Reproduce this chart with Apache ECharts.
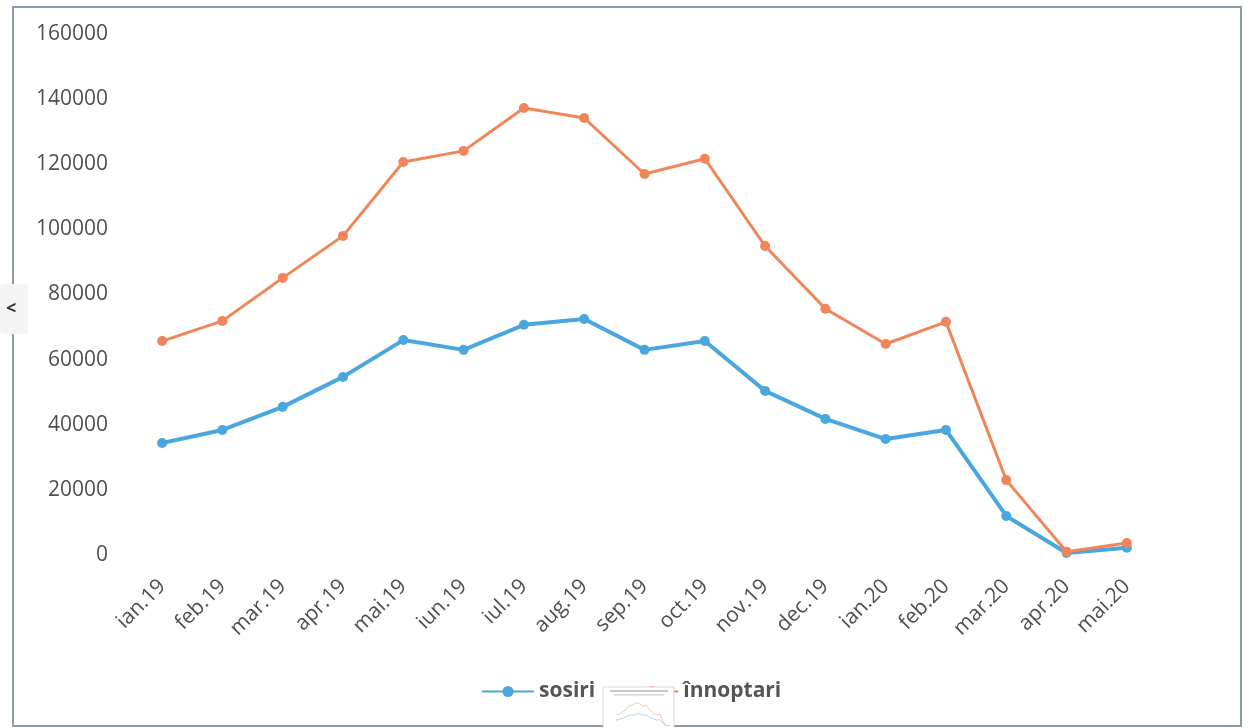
<!DOCTYPE html>
<html>
<head>
<meta charset="utf-8">
<script src="https://cdn.jsdelivr.net/npm/echarts@6/dist/echarts.min.js"></script>
<style>html,body{margin:0;padding:0;background:#fff;}#c{width:1250px;height:728px;}</style>
</head>
<body>
<div id="c"></div>
<script>
const categories = ['ian.19','feb.19','mar.19','apr.19','mai.19','iun.19','iul.19','aug.19','sep.19','oct.19','nov.19','dec.19','ian.20','feb.20','mar.20','apr.20','mai.20'];
const sosiri = [34400, 38400, 45500, 54700, 66000, 63000, 70700, 72500, 63000, 65700, 50400, 41800, 35600, 38400, 12000, 600, 2200];
const innoptari = [65700, 71900, 85100, 98000, 120700, 124100, 137300, 134200, 117000, 121700, 94900, 75600, 64800, 71600, 23000, 1000, 3700];
const yTicks = { min: 0, max: 160000, interval: 20000 };
const seriesNames = ['sosiri', 'înnoptari'];

const BLUE = '#4aa6de';
const ORANGE = '#f0855a';
const FONT = '"Open Sans", "Liberation Sans", sans-serif';

const chart = echarts.init(document.getElementById('c'));
chart.setOption({
  animation: false,
  backgroundColor: '#ffffff',
  grid: [
    { left: 132, right: 93, top: 34, bottom: 173 },
    { left: 616, top: 699, width: 54, height: 27 }
  ],
  legend: {
    data: seriesNames,
    left: 476,
    top: 676,
    itemWidth: 52,
    itemHeight: 14,
    itemGap: 30,
    textStyle: { fontFamily: FONT, fontSize: 21, fontWeight: 'bold', color: '#555555' }
  },
  xAxis: [
    {
      type: 'category', gridIndex: 0, data: categories, boundaryGap: true,
      axisLine: { show: false }, axisTick: { show: false },
      axisLabel: { rotate: 45, margin: 28, fontFamily: FONT, fontSize: 21, color: '#4f4f4f' }
    },
    { type: 'category', gridIndex: 1, data: categories, show: false, boundaryGap: false }
  ],
  yAxis: [
    {
      type: 'value', gridIndex: 0, min: yTicks.min, max: yTicks.max, interval: yTicks.interval,
      axisLine: { show: false }, axisTick: { show: false }, splitLine: { show: false },
      axisLabel: { margin: 24, fontFamily: FONT, fontSize: 21, color: '#4f4f4f',
        formatter: function (v) { return String(v); } }
    },
    { type: 'value', gridIndex: 1, min: 0, max: 160000, show: false, splitLine: { show: false } }
  ],
  series: [
    {
      name: seriesNames[0], type: 'line', data: sosiri, xAxisIndex: 0, yAxisIndex: 0,
      symbol: 'circle', symbolSize: 10, color: BLUE,
      lineStyle: { width: 4, color: BLUE }, itemStyle: { color: BLUE }, z: 3
    },
    {
      name: seriesNames[1], type: 'line', data: innoptari, xAxisIndex: 0, yAxisIndex: 0,
      symbol: 'circle', symbolSize: 10, color: ORANGE,
      lineStyle: { width: 3, color: ORANGE }, itemStyle: { color: ORANGE }, z: 4
    },
    {
      name: 'mini-s', type: 'line', data: sosiri, xAxisIndex: 1, yAxisIndex: 1,
      symbol: 'none', silent: true, z: 120, zlevel: 1,
      lineStyle: { width: 0.8, color: '#9cc8ea' }
    },
    {
      name: 'mini-i', type: 'line', data: innoptari, xAxisIndex: 1, yAxisIndex: 1,
      symbol: 'none', silent: true, z: 120, zlevel: 1,
      lineStyle: { width: 0.8, color: '#f5b9a6' }
    }
  ],
  graphic: [
    { type: 'rect', silent: true, z: 0, shape: { x: 13, y: 7, width: 1228, height: 719 },
      style: { fill: 'none', stroke: '#8b9aa6', lineWidth: 2 } },
    { type: 'rect', silent: true, z: 1, shape: { x: 0, y: 284, width: 28, height: 50, r: 4 },
      style: { fill: '#f4f4f4', stroke: 'none' } },
    { type: 'text', silent: true, z: 2, x: 6, y: 300,
      style: { text: '<', fontFamily: FONT, fontSize: 18, fontWeight: 'bold', fill: '#333' } },
    { type: 'rect', silent: true, zlevel: 1, z: 100, shape: { x: 603, y: 687, width: 71, height: 45 },
      style: { fill: '#ffffff', stroke: '#d6d6d6', lineWidth: 1 } },
    { type: 'rect', silent: true, zlevel: 1, z: 110, shape: { x: 610, y: 690, width: 58, height: 2 },
      style: { fill: '#c8c8c8' } },
    { type: 'rect', silent: true, zlevel: 1, z: 110, shape: { x: 614, y: 694, width: 50, height: 1.5 },
      style: { fill: '#d6d6d6' } }
  ]
});
</script>
</body>
</html>
